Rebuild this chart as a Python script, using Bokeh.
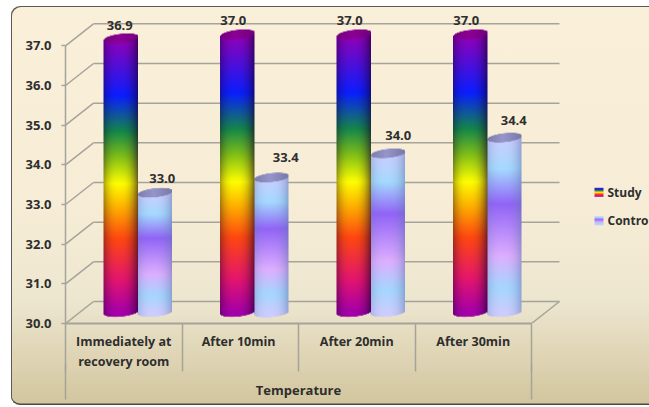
import numpy as np
from bokeh.embed import file_html
from bokeh.resources import INLINE
from bokeh.plotting import figure
from bokeh.models import ColumnDataSource, FixedTicker, Range1d, LinearAxis
from bokeh.core.properties import value

# ---- data ----
categories = ["Immediately at\nrecovery room", "After  10min", "After 20min", "After 30min"]
study = [36.9, 37.0, 37.0, 37.0]
control = [33.0, 33.4, 34.0, 34.4]
y_ticks = [30, 31, 32, 33, 34, 35, 36, 37]
series_names = ["Study", "Control"]
axis_title = "Temperature"

# ---- layout (pixels) ----
PX_Y = 39.67
PX_X = 116.5
FIG_W, FIG_H = 638, 399
BORDER_L, BORDER_B = 54, 82
DEPTH_X, DEPTH_Y = 28 / PX_X, 22 / PX_Y
MID_DEPTH_Y = 11 / PX_Y
BAR_W_PX = 34.5
BAR_OFFSET = 38 / PX_X
RY, SKEW = 4.5, 3.5
study_label_dx = [-1, -4, -4, -4]
study_label_dy = [-13, -14, -14, -14]
control_label_dx = [7, 14, 10, 9]
control_label_dy = [-15, -20, -18, -17]

# ---- style ----
FONT = "Open Sans"
GRID = "#a5a39a"
TEXT = "#2e2e2e"
STUDY_STOPS = [(0, (165, 0, 170)), (.12, (228, 22, 110)), (.27, (255, 72, 16)), (.38, (255, 175, 0)),
               (.47, (255, 255, 0)), (.57, (125, 190, 25)), (.66, (20, 135, 75)), (.79, (10, 30, 255)),
               (1, (150, 0, 180))]
CTRL_STOPS = [(0, (205, 205, 255)), (.14, (165, 215, 255)), (.32, (222, 175, 255)), (.62, (146, 100, 248)),
              (.82, (165, 218, 255)), (1, (205, 205, 255))]
STUDY_CAP = (140, 0, 150)
CTRL_CAP = (150, 150, 205)


def cylinder(height_units, stops, cap, edge_dark, edge_tint):
    """RGBA picture of one cylinder, row 0 at the bottom, at 2x pixel density."""
    ss = 2
    h_body = height_units * PX_Y
    total = h_body + 2 * RY + SKEW
    W, H = int(round(BAR_W_PX * ss)), int(round(total * ss))
    xs = (np.arange(W) + .5) / W * 2 - 1
    ys = (np.arange(H) + .5) / ss
    base = RY + SKEW / 2
    frac = np.clip((ys - base) / h_body, 0, 1)
    fs, cs = zip(*stops)
    cs = np.array(cs, float)
    col = np.stack([np.interp(frac, fs, cs[:, i]) for i in range(3)], -1)[:, None, :]
    t = xs + .12
    shade = np.clip(np.abs(t) / 1.12, 0, 1) ** 2.6
    shade = shade[None, :, None]
    tint = np.array(edge_tint, float)[None, None, :]
    rgb = col * (1 - shade * edge_dark) + tint * shade * edge_dark
    e = RY * np.sqrt(np.clip(1 - xs ** 2, 0, 1))
    s = SKEW * xs / 2
    yy = ys[:, None]
    top_c = base + h_body + s
    bot_c = base + s
    a = np.clip((yy - (bot_c - e)) * ss + .5, 0, 1) * np.clip((top_c + e - yy) * ss + .5, 0, 1)
    capmask = np.clip((yy - (top_c - e)) * ss + .5, 0, 1)[..., None]
    capshade = 1 - 0.18 * np.abs(xs + .1)[None, :, None]
    rgb = rgb * (1 - capmask) + np.array(cap, float)[None, None, :] * capshade * capmask
    out = np.zeros((H, W), dtype=np.uint32)
    view = out.view(np.uint8).reshape((H, W, 4))
    view[..., :3] = np.clip(rgb, 0, 255).astype(np.uint8)
    view[..., 3] = (a * 255).astype(np.uint8)
    return out


def swatch(stops):
    H, W = 18, 18
    fs, cs = zip(*stops)
    cs = np.array(cs, float)
    frac = (np.arange(H) + .5) / H
    rgb = np.stack([np.interp(frac, fs, cs[:, i]) for i in range(3)], -1)
    out = np.zeros((H, W), dtype=np.uint32)
    view = out.view(np.uint8).reshape((H, W, 4))
    view[..., :3] = rgb[:, None, :].astype(np.uint8)
    view[..., 3] = 255
    return out


x_end = (FIG_W - BORDER_L) / PX_X
y_end = 30 + (FIG_H - BORDER_B) / PX_Y
n = len(categories)

p = figure(width=FIG_W, height=FIG_H, output_backend="svg", toolbar_location=None,
           x_range=Range1d(0, x_end), y_range=Range1d(30, y_end),
           min_border_left=BORDER_L, min_border_right=0, min_border_top=0, min_border_bottom=BORDER_B,
           background_fill_alpha=0, border_fill_alpha=0, outline_line_color=None,
           margin=(6, 0, 0, 11),
           styles={"background": "linear-gradient(#faefd9 0%, #f7edd7 50%, #ede6cf 74%, #d2c59e 100%)",
                   "border-radius": "9px 0 0 9px",
                   "box-shadow": "inset 1px 1px 0 #5a5a55, inset 0 -1.5px 0 #4a4a45"})
p.grid.visible = False

# axes
ya = p.yaxis[0]
ya.ticker = FixedTicker(ticks=y_ticks)
ya.major_label_overrides = {t: f"{t:.1f}" for t in y_ticks}
ya.bounds = (30, 37)
ya.minor_tick_line_color = None
ya.major_tick_in = 0
ya.major_tick_out = 4
ya.major_label_standoff = 10
ya.axis_line_color = GRID
ya.major_tick_line_color = GRID
ya.axis_line_width = 1.5
ya.major_tick_line_width = 1.5
ya.major_label_text_font = FONT
ya.major_label_text_font_style = "bold"
ya.major_label_text_font_size = "13px"
ya.major_label_text_color = TEXT

xa = p.xaxis[0]
xa.ticker = FixedTicker(ticks=[i + .5 for i in range(n)], minor_ticks=list(range(0, n + 1)))
xa.major_label_overrides = {i + .5: c for i, c in enumerate(categories)}
xa.bounds = (0, n)
xa.major_tick_line_color = None
xa.major_tick_in = 0
xa.major_tick_out = 0
xa.minor_tick_in = 0
xa.minor_tick_out = 48
xa.minor_tick_line_color = GRID
xa.minor_tick_line_width = 1.5
xa.axis_line_color = GRID
xa.axis_line_width = 2
xa.major_label_standoff = -39
xa.major_label_text_font = FONT
xa.major_label_text_font_style = "bold"
xa.major_label_text_font_size = "12.5px"
xa.major_label_text_color = TEXT
xa.major_label_orientation = "horizontal"

# second tier of the category axis: the title and the two outer lines
xb = LinearAxis(ticker=FixedTicker(ticks=[n / 2], minor_ticks=[0, n]),
                major_label_overrides={n / 2: axis_title},
                axis_line_color=None, major_tick_line_color=None,
                major_tick_in=0, major_tick_out=0,
                minor_tick_in=8, minor_tick_out=27,
                minor_tick_line_color=GRID, minor_tick_line_width=1.5,
                major_label_standoff=-19, major_label_orientation="horizontal",
                major_label_text_font=FONT, major_label_text_font_style="bold",
                major_label_text_font_size="13px", major_label_text_color=TEXT)
p.add_layout(xb, "below")

# 3D box lines
for v in y_ticks:
    p.segment(x0=[0], y0=[v], x1=[DEPTH_X], y1=[v + DEPTH_Y], line_color=GRID, line_width=1.5)
    p.segment(x0=[DEPTH_X], y0=[v + DEPTH_Y], x1=[n + DEPTH_X], y1=[v + DEPTH_Y], line_color=GRID, line_width=1.5)
p.segment(x0=[n], y0=[30], x1=[n + DEPTH_X], y1=[30 + DEPTH_Y], line_color=GRID, line_width=1.5)

# cylinders
bar_w = BAR_W_PX / PX_X
y_shift = MID_DEPTH_Y - (RY + SKEW / 2) / PX_Y
for i in range(n):
    x_s = i + BAR_OFFSET
    x_c = x_s + bar_w - 0.5 / PX_X
    p.image_rgba(image=[cylinder(control[i] - 30, CTRL_STOPS, CTRL_CAP, .55, (95, 115, 170))],
                 x=[x_c], y=[30 + y_shift], dw=[bar_w],
                 dh=[control[i] - 30 + (2 * RY + SKEW) / PX_Y])
    p.image_rgba(image=[cylinder(study[i] - 30, STUDY_STOPS, STUDY_CAP, .68, (20, 0, 40))],
                 x=[x_s], y=[30 + y_shift], dw=[bar_w],
                 dh=[study[i] - 30 + (2 * RY + SKEW) / PX_Y])

# data labels
cx_s = [i + BAR_OFFSET + bar_w / 2 for i in range(n)]
cx_c = [c + bar_w for c in cx_s]
labels = ColumnDataSource(dict(
    x=cx_s + cx_c,
    y=[v + MID_DEPTH_Y for v in study + control],
    text=[f"{v:.1f}" for v in study + control],
    dx=study_label_dx + control_label_dx,
    dy=study_label_dy + control_label_dy))
p.text(x="x", y="y", text="text", x_offset="dx", y_offset="dy", source=labels,
       text_align="center", text_baseline="middle", text_color=TEXT,
       text_font=value(FONT), text_font_style="bold", text_font_size="13px")

# legend
leg_x = (594 - 65) / PX_X
leg_w = 9 / PX_X
leg_h = 9 / PX_Y
for name, stops, y_px in zip(series_names, (STUDY_STOPS, CTRL_STOPS), (191.5, 220)):
    yy = 30 + (322.7 - y_px) / PX_Y
    p.image_rgba(image=[swatch(stops)], x=[leg_x], y=[yy - leg_h / 2], dw=[leg_w], dh=[leg_h])
    p.text(x=[leg_x + leg_w + 4 / PX_X], y=[yy], text=[name], text_align="left", text_baseline="middle",
           text_color=TEXT, text_font=value(FONT), text_font_style="bold", text_font_size="12px")

open("out.html", "w").write(file_html(p, INLINE))
